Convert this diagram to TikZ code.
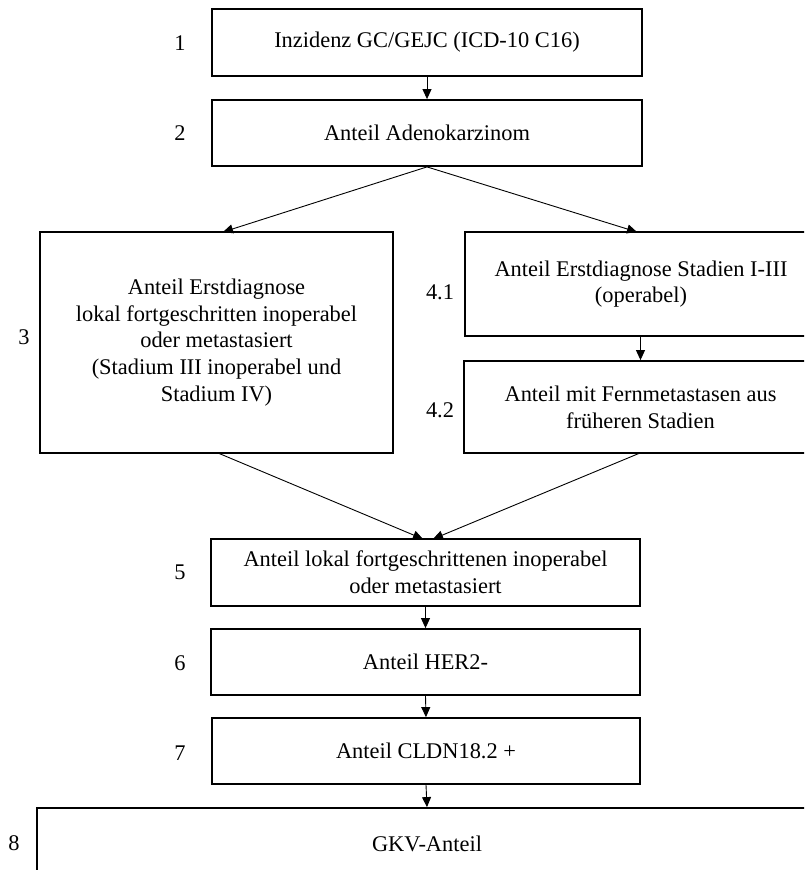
\documentclass[tikz,border=0pt]{standalone}
\usepackage{fontspec}
\setmainfont{Liberation Serif}
\usetikzlibrary{arrows.meta}
\begin{document}
\begin{tikzpicture}[x=1pt,y=-1pt,
  box/.style={draw=black, line width=1.8pt, inner sep=0pt, align=center,
    font=\fontsize{22.4}{26.7}\selectfont},
  num/.style={font=\fontsize{22.4}{26.7}\selectfont, inner sep=0pt},
  arr/.style={line width=0.9pt, -{Triangle[length=10pt,width=9pt]}},
  ln/.style={line width=0.9pt}]
\useasboundingbox (0,0) rectangle (804,870);
\clip (0,0) rectangle (804,870);
\node[box, minimum width=430pt, minimum height=67pt] (b1) at (427,42.5) {Inzidenz GC/GEJC (ICD-10 C16)};
\node[box, minimum width=430pt, minimum height=66pt] (b2) at (427,133) {Anteil Adenokarzinom};
\node[box, minimum width=353pt, minimum height=221pt] (b3) at (216.5,342.5) {Anteil Erstdiagnose\\lokal fortgeschritten inoperabel\\oder metastasiert\\(Stadium III inoperabel und\\Stadium IV)};
\node[box, minimum width=352pt, minimum height=104pt] (b41) at (641,284) {Anteil Erstdiagnose Stadien I-III\\(operabel)};
\node[box, minimum width=353pt, minimum height=92pt] (b42) at (640.5,407) {Anteil mit Fernmetastasen aus\\früheren Stadien};
\node[box, minimum width=429pt, minimum height=67pt] (b5) at (425.5,572.5) {Anteil lokal fortgeschrittenen inoperabel\\oder metastasiert};
\node[box, minimum width=429pt, minimum height=66pt] (b6) at (425.5,662) {Anteil HER2-};
\node[box, minimum width=428pt, minimum height=66pt] (b7) at (426,751) {Anteil CLDN18.2 +};
\node[box, minimum width=780pt, minimum height=72pt] (b8) at (427,844) {GKV-Anteil};

\node[num] (n1) at (180,43) {1};
\node[num] (n2) at (180,133) {2};
\node[num] (n3) at (24,337) {3};
\node[num] (n41) at (440,292) {4.1};
\node[num] (n42) at (440,410) {4.2};
\node[num] (n5) at (180,572) {5};
\node[num] (n6) at (180,663) {6};
\node[num] (n7) at (180,753) {7};
\node[num] (n8) at (14,843) {8};

\coordinate (t3) at (223,232);
\coordinate (t41) at (637,232);
\coordinate (s3) at (218,453);
\coordinate (s42) at (640,453);
\coordinate (t5a) at (423,539);
\coordinate (t5b) at (433,539);

\draw[arr] (b1.south) -- (b2.north);
\draw[arr] (b2.south) -- (t3);
\draw[arr] (b2.south) -- (t41);
\draw[arr] (b41.south -| b42.north) -- (b42.north);
\draw[arr] (s3) -- (t5a);
\draw[arr] (s42) -- (t5b);
\draw[arr] (b5.south) -- (b6.north);
\draw[arr] (b6.south) -- (b7.north);
\draw[arr] (b7.south) -- (b8.north);
\end{tikzpicture}
\end{document}
